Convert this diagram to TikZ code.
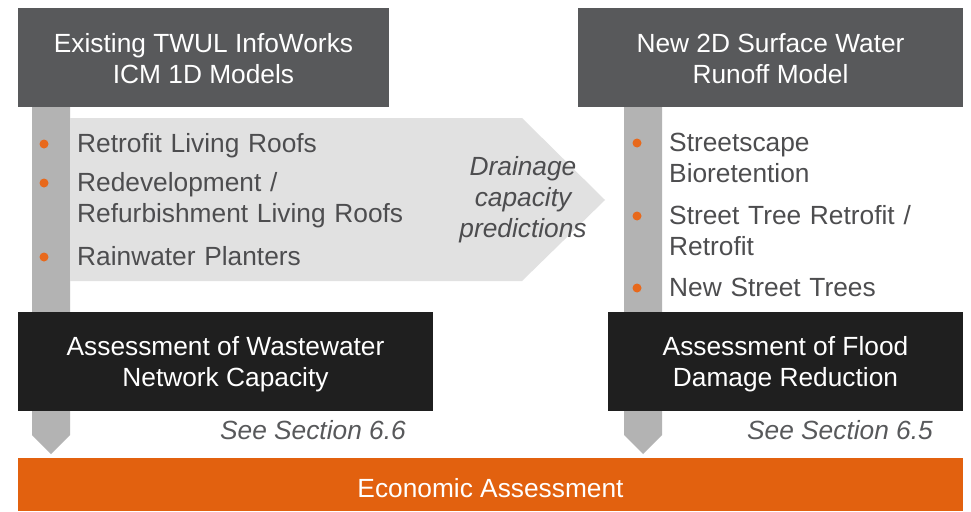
\documentclass[tikz,border=0pt]{standalone}
\usepackage{fontspec}
\setmainfont{Liberation Sans}
\definecolor{hdr}{HTML}{58595B}
\definecolor{blk}{HTML}{1F1F1F}
\definecolor{org}{HTML}{E2610F}
\definecolor{barc}{HTML}{B3B3B3}
\definecolor{lgt}{HTML}{E1E1E1}
\definecolor{txt}{HTML}{4D4D4F}
\definecolor{bul}{HTML}{E8691C}
\begin{document}
\begin{tikzpicture}[x=1pt,y=-1pt,
  every node/.style={font=\fontsize{26.3}{31}\selectfont, inner sep=0pt},
  hbox/.style={fill=hdr, text=white, align=center},
  bbox/.style={fill=blk, text=white, align=center},
  item/.style={text=txt, text width=330pt, align=left, anchor=base west},
  bulletdot/.style={circle, fill=bul, minimum size=9pt},
  note/.style={text=hdr, font=\fontsize{26.3}{31}\selectfont\itshape},
  barshape/.style={fill=barc},
  flowarrow/.style={fill=lgt}]
\useasboundingbox (0,0) rectangle (971,511);
\fill[white] (0,0) rectangle (971,511);

% boxes (named nodes)
\node[hbox, minimum width=371pt, minimum height=99pt] (tl) at (203.5,57.5) {};
\node[hbox, minimum width=385pt, minimum height=99pt] (tr) at (770.5,57.5) {};
\node[text=white, align=center] (tlt) at (203.5,59) {Existing TWUL InfoWorks\\ICM 1D Models};
\node[text=white, align=center] (trt) at (770.5,59) {New 2D Surface Water\\Runoff Model};
\node[fill=org, minimum width=945pt, minimum height=53pt] (eco) at (490.5,484.5) {};
\node[text=white] (ecot) at (490.5,488) {Economic Assessment};

% vertical bars with arrow tips
\coordinate (lt) at (51,454);
\coordinate (rt) at (643,454);
\fill[barshape] (tl.south -| 32,0) -- (tl.south -| 70,0) -- (70,435) -- (lt) -- (32,435) -- cycle;
\fill[barshape] (tr.south -| 624,0) -- (tr.south -| 662,0) -- (662,435) -- (rt) -- (624,435) -- cycle;

% light flow arrow
\coordinate (tip) at (605,200);
\fill[flowarrow] (70,118) -- (522,118) -- (tip) -- (522,281) -- (70,281) -- cycle;

% bottom boxes (drawn over bars)
\node[bbox, minimum width=415pt, minimum height=99pt] (bl) at (225.5,361.5) {};
\node[bbox, minimum width=355pt, minimum height=99pt] (br) at (785.5,361.5) {};
\node[text=white, align=center] (blt) at (225.5,364.5) {Assessment of Wastewater\\Network Capacity};
\node[text=white, align=center] (brt) at (785.5,364.5) {Assessment of Flood\\Damage Reduction};

% left items
\node[bulletdot] (lb1) at (44,144) {};
\node[bulletdot] (lb2) at (44,183) {};
\node[bulletdot] (lb3) at (44,257) {};
\node[item] (li1) at (77,152) {Retrofit Living Roofs};
\node[item] (li2) at (77,191) {Redevelopment /\\Refurbishment Living Roofs};
\node[item] (li3) at (77,265) {Rainwater Planters};

% right items
\node[bulletdot] (rb1) at (637,143) {};
\node[bulletdot] (rb2) at (637,216) {};
\node[bulletdot] (rb3) at (637,288) {};
\node[item, text width=290pt] (ri1) at (669,151) {Streetscape\\Bioretention};
\node[item, text width=290pt] (ri2) at (669,224) {Street Tree Retrofit /\\Retrofit};
\node[item, text width=290pt] (ri3) at (669,296) {New Street Trees};

% flow label
\node[note, text=txt, align=center] (drain) at (523,200) {Drainage\\capacity\\predictions};

% section references
\node[note, anchor=base east] (s66) at (406,439) {See Section 6.6};
\node[note, anchor=base east] (s65) at (933,439) {See Section 6.5};
\end{tikzpicture}
\end{document}
